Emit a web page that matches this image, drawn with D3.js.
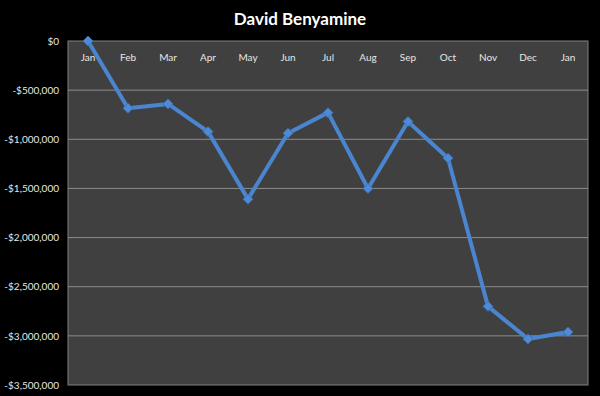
<!DOCTYPE html>
<html><head><meta charset="utf-8">
<script src="https://cdn.jsdelivr.net/npm/d3@7"></script>
<style>html,body{margin:0;padding:0;background:#000;}svg{display:block;}</style>
</head><body>
<script>
const months = ["Jan","Feb","Mar","Apr","May","Jun","Jul","Aug","Sep","Oct","Nov","Dec","Jan"];
const values = [0,-684000,-640000,-922000,-1609000,-938000,-729000,-1501000,-820000,-1192000,-2700000,-3032000,-2961000];
const yTicks = [0,-500000,-1000000,-1500000,-2000000,-2500000,-3000000,-3500000];
const title = "David Benyamine";

const W=600,H=396;
const m={left:68,right:12,top:41,bottom:11};
const svg=d3.select("body").append("svg").attr("width",W).attr("height",H);
svg.append("rect").attr("width",W).attr("height",H).attr("fill","#000");
const pw=W-m.left-m.right, ph=H-m.top-m.bottom;
const g=svg.append("g").attr("transform",`translate(${m.left},${m.top})`);
g.append("rect").attr("width",pw).attr("height",ph).attr("fill","#404040").attr("stroke","#808080").attr("stroke-width",1);

const x=d3.scaleBand().domain(months.map((d,i)=>i)).range([0,pw]);
const y=d3.scaleLinear().domain([0,-3500000]).range([0,ph]);

g.selectAll("line.grid").data(yTicks.slice(1,-1)).join("line").attr("class","grid")
 .attr("x1",0).attr("x2",pw).attr("y1",d=>y(d)).attr("y2",d=>y(d))
 .attr("stroke","#8c8c8c").attr("stroke-width",1);

const fmt=d=> (d<0?"-":"")+"$"+d3.format(",")(Math.abs(d));
const ya=g.append("g").call(d3.axisLeft(y).tickValues(yTicks).tickFormat(fmt).tickSize(0).tickPadding(9));
ya.select(".domain").remove();
ya.selectAll("text").attr("fill","#e6e6e6").style("font-family","Lato, 'Open Sans', sans-serif").style("font-size","10px");

const xa=g.append("g").call(d3.axisBottom(x).tickFormat(i=>months[i]).tickSize(0).tickPadding(13));
xa.select(".domain").remove();
xa.selectAll("text").attr("fill","#e6e6e6").style("font-family","Lato, 'Open Sans', sans-serif").style("font-size","10px");

const line=d3.line().x((d,i)=>x(i)+x.bandwidth()/2).y(d=>y(d));
g.append("path").datum(values).attr("d",line).attr("fill","none")
 .attr("stroke","#4a86d0").attr("stroke-width",4).attr("stroke-linejoin","round");

const sym=d3.symbol().type(d3.symbolSquare).size(50);
g.selectAll("path.mk").data(values).join("path").attr("class","mk")
 .attr("transform",(d,i)=>`translate(${x(i)+x.bandwidth()/2},${y(d)}) rotate(45)`)
 .attr("d",sym).attr("fill","#4f8ad6").attr("stroke","#3a6fb0").attr("stroke-width",0.8);

svg.append("text").attr("x",W/2).attr("y",25).attr("text-anchor","middle")
 .attr("fill","#fff").style("font-family","Lato, 'Open Sans', sans-serif").style("font-weight","bold").style("font-size","17px").text(title);
</script>
</body></html>
